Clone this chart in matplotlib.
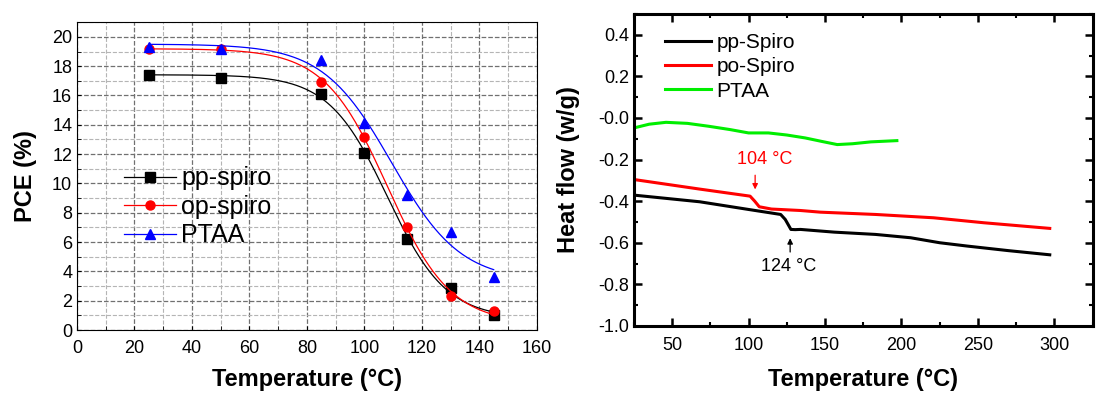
import matplotlib
matplotlib.use("Agg")
import matplotlib.pyplot as plt
import numpy as np
from matplotlib.ticker import MultipleLocator

plt.rcParams["font.family"] = ["Liberation Sans", "DejaVu Sans"]

# --- left panel: PCE vs annealing temperature ---
temps = [25, 50, 85, 100, 115, 130, 145]
pce_pp = [17.4, 17.2, 16.1, 12.1, 6.2, 2.9, 1.0]
pce_op = [19.2, 19.2, 16.9, 13.2, 7.0, 2.3, 1.3]
pce_ptaa = [19.3, 19.2, 18.4, 14.1, 9.2, 6.7, 3.6]

# --- right panel: DSC traces ---
dsc_pp_t = [25, 68, 100, 121, 124, 127.7, 130.5, 134, 156, 183, 206, 225, 243, 270, 297]
dsc_pp_h = [-0.371, -0.403, -0.440, -0.464, -0.488, -0.536, -0.537, -0.536, -0.549, -0.560,
            -0.576, -0.600, -0.616, -0.638, -0.658]
dsc_po_t = [25, 68, 101, 104, 107, 115, 134, 147, 183, 221, 254, 297]
dsc_po_h = [-0.296, -0.342, -0.376, -0.400, -0.427, -0.438, -0.445, -0.453, -0.464, -0.480,
            -0.504, -0.531]
dsc_ptaa_t = [25, 35, 46, 60, 74, 88, 100, 113, 125, 137, 148, 158, 168, 180, 197]
dsc_ptaa_h = [-0.048, -0.030, -0.021, -0.026, -0.040, -0.056, -0.072, -0.072, -0.082, -0.096,
              -0.113, -0.128, -0.124, -0.115, -0.109]


def boltzmann_fit(x, y):
    # grid search on centre/width, linear least squares for the plateaus
    x = np.asarray(x, float)
    y = np.asarray(y, float)
    best = None
    for x0 in np.arange(90, 130, 0.25):
        for dx in np.arange(2, 25, 0.25):
            s = 1.0 / (1.0 + np.exp((x - x0) / dx))
            A = np.column_stack([s, 1 - s])
            coef, *_ = np.linalg.lstsq(A, y, rcond=None)
            err = np.sum((A @ coef - y) ** 2)
            if best is None or err < best[0]:
                best = (err, coef[0], coef[1], x0, dx)
    _, a1, a2, x0, dx = best
    return lambda t: a2 + (a1 - a2) / (1.0 + np.exp((t - x0) / dx))


def main():
    fig = plt.figure(figsize=(11.16, 4.11), dpi=100)
    ax1 = fig.add_axes([0.069, 0.197, 0.412, 0.749])
    ax2 = fig.add_axes([0.568, 0.207, 0.411, 0.759])

    tt = np.linspace(25, 145, 300)
    series = [
        (pce_pp, "k", "s", "pp-spiro"),
        (pce_op, "r", "o", "op-spiro"),
        (pce_ptaa, "b", "^", "PTAA"),
    ]
    handles = []
    for vals, c, m, lab in series:
        f = boltzmann_fit(temps, vals)
        ax1.plot(tt, f(tt), color=c, lw=0.9)
        ax1.plot(temps, vals, ls="none", marker=m, color=c, ms=6.5)
        h, = ax1.plot([], [], color=c, lw=0.9, marker=m, ms=6.5)
        handles.append(h)

    ax1.set_xlim(0, 160)
    ax1.set_ylim(0, 21)
    ax1.xaxis.set_major_locator(MultipleLocator(20))
    ax1.xaxis.set_minor_locator(MultipleLocator(10))
    ax1.yaxis.set_major_locator(MultipleLocator(2))
    ax1.yaxis.set_minor_locator(MultipleLocator(1))
    ax1.grid(which="major", ls="--", color="#707070", lw=0.9)
    ax1.grid(which="minor", ls="--", color="#b5b5b5", lw=0.8)
    ax1.set_axisbelow(True)
    ax1.tick_params(which="both", direction="in", labelsize=13, length=3)
    ax1.tick_params(axis="x", pad=7)
    ax1.set_xlabel("Temperature (°C)", fontsize=17, fontweight="bold", labelpad=8)
    ax1.set_ylabel("PCE (%)", fontsize=17, fontweight="bold", labelpad=11)
    ax1.legend(handles, [s[3] for s in series], loc="center left",
               bbox_to_anchor=(0.08, 0.40), frameon=False, fontsize=18,
               handlelength=2.1, handletextpad=0.2, labelspacing=0.18,
               borderaxespad=0)

    ax2.plot(dsc_pp_t, dsc_pp_h, color="k", lw=2.2, label="pp-Spiro")
    ax2.plot(dsc_po_t, dsc_po_h, color="#ff0000", lw=2.2, label="po-Spiro")
    ax2.plot(dsc_ptaa_t, dsc_ptaa_h, color="#00ee00", lw=2.2, label="PTAA")

    ax2.annotate("", xy=(104.3, -0.357), xytext=(104.3, -0.262),
                 arrowprops=dict(arrowstyle="-|>", color="#ff0000", lw=0.9,
                                 mutation_scale=8))
    ax2.text(110.8, -0.200, "104 °C", color="#ff0000", fontsize=13,
             ha="center", va="center")
    ax2.annotate("", xy=(127.2, -0.565), xytext=(127.2, -0.658),
                 arrowprops=dict(arrowstyle="-|>", color="k", lw=0.9,
                                 mutation_scale=8))
    ax2.text(126.1, -0.712, "124 °C", color="k", fontsize=13,
             ha="center", va="center")

    ax2.set_xlim(25, 325)
    ax2.set_ylim(-1.0, 0.5)
    ax2.xaxis.set_major_locator(MultipleLocator(50))
    ax2.xaxis.set_minor_locator(MultipleLocator(25))
    ax2.yaxis.set_major_locator(MultipleLocator(0.2))
    ax2.yaxis.set_minor_locator(MultipleLocator(0.1))
    ax2.set_yticks(np.arange(-1.0, 0.41, 0.2))
    ax2.set_yticklabels([f"{v:.1f}" for v in np.arange(-1.0, 0.41, 0.2)])
    ax2.tick_params(which="major", direction="in", top=True, right=True,
                    length=6, width=1.8, labelsize=13)
    ax2.tick_params(which="minor", direction="in", top=True, right=True,
                    length=3, width=1.5)
    ax2.tick_params(axis="x", pad=8)
    for sp in ax2.spines.values():
        sp.set_linewidth(2.2)
    ax2.set_xlabel("Temperature (°C)", fontsize=17, fontweight="bold", labelpad=10)
    ax2.set_ylabel("Heat flow (w/g)", fontsize=17, fontweight="bold", labelpad=13)
    ax2.legend(loc="upper left", bbox_to_anchor=(0.05, 0.965), frameon=False,
               fontsize=15, handlelength=2.2, handletextpad=0.25,
               labelspacing=0.25, borderaxespad=0)

    fig.savefig("out.png", dpi=100)


if __name__ == "__main__":
    main()
